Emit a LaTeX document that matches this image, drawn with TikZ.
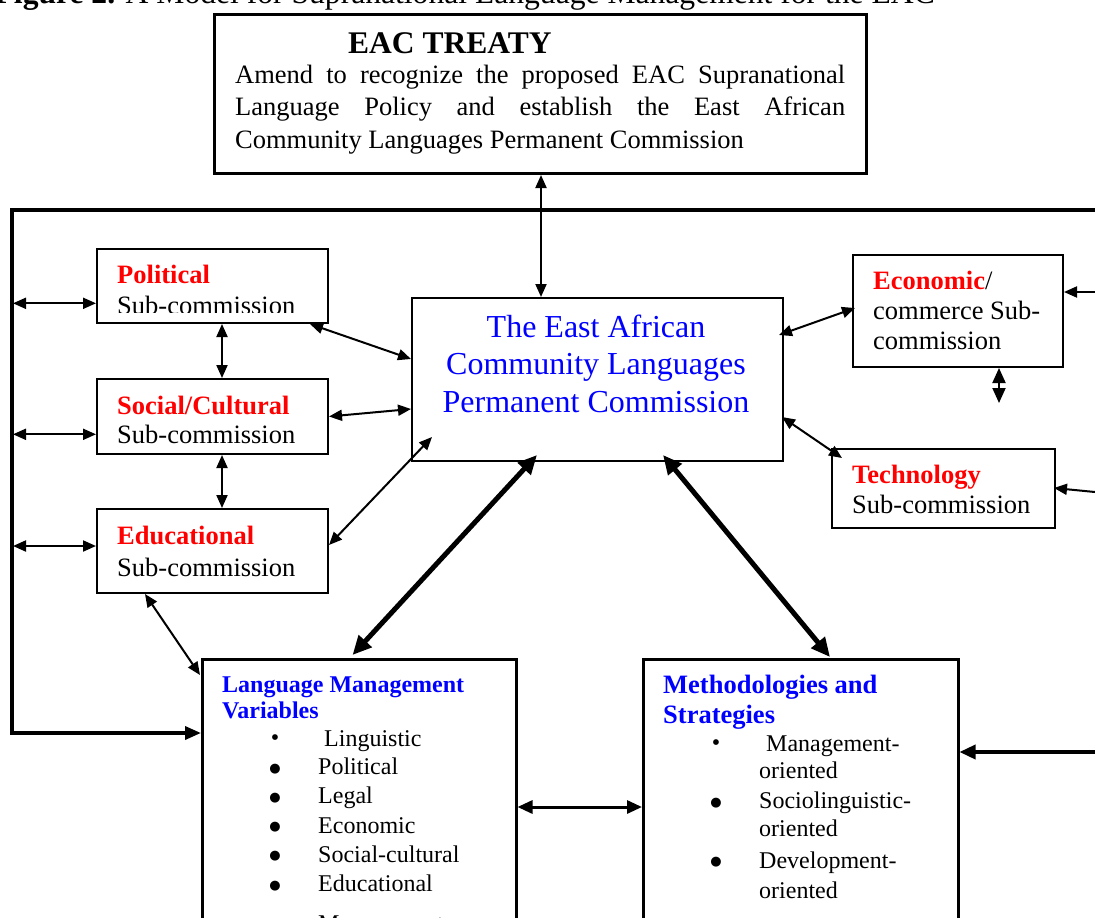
\documentclass[tikz,border=0pt]{standalone}
\usepackage{fontspec}
\setmainfont{Liberation Serif}
\newfontfamily\dejavu{DejaVu Sans}
\usetikzlibrary{arrows.meta,calc}
\definecolor{rd}{RGB}{255,0,0}
\definecolor{bl}{RGB}{0,0,255}
\begin{document}
\begin{tikzpicture}[x=1pt,y=-1pt,
  box/.style={draw, line width=2pt, fill=white, inner sep=0pt, anchor=north west},
  lbl/.style={anchor=base west, inner sep=0pt, font=\fontsize{26.5}{31}\selectfont},
  sml/.style={anchor=base west, inner sep=0pt, font=\fontsize{24}{28}\selectfont},
  bul/.style={anchor=base, inner sep=0pt, font=\dejavu\fontsize{13}{15}\selectfont},
  bulsm/.style={anchor=base, inner sep=0pt, font=\fontsize{24}{28}\selectfont},
  ctr/.style={anchor=base, inner sep=0pt, text=bl, font=\fontsize{32}{37}\selectfont},
  TT/.tip={Triangle[length=13pt,width=11pt]},
  TB/.tip={Triangle[length=19pt,width=17pt]},
  TM/.tip={Triangle[length=15pt,width=13pt]},
  thinarr/.style={line width=2pt, TT-TT},
  thickarr/.style={line width=5pt, TB-TB},
  rtarr/.style={line width=2pt, -TT}]
\useasboundingbox (0,0) rectangle (1095,918);

% caption (cut by the top edge)
\node[anchor=base east, inner sep=0pt, font=\fontsize{31.6}{36}\selectfont] (cap) at (935,4)
  {\textbf{Figure 2.} A Model for Supranational Language Management for the EAC};

% boxes
\node[box, line width=3pt, minimum width=652pt, minimum height=159pt] (treaty) at (213,13) {};
\node[box, minimum width=231pt, minimum height=74pt] (pol) at (96,248) {};
\node[box, minimum width=231pt, minimum height=75pt] (soc) at (96,378) {};
\node[box, minimum width=231pt, minimum height=84pt] (edu) at (96,508) {};
\node[box, minimum width=371pt, minimum height=163pt] (central) at (411,297) {};
\node[box, minimum width=210pt, minimum height=112pt] (econ) at (852,254) {};
\node[box, minimum width=223pt, minimum height=79pt] (tech) at (831,448) {};
\node[box, line width=2.5pt, minimum width=314pt, minimum height=290pt] (lmv) at (201,658) {};
\node[box, line width=2.5pt, minimum width=315pt, minimum height=290pt] (meth) at (642,658) {};

% treaty text
\node[anchor=base west, inner sep=0pt, font=\bfseries\fontsize{31.5}{35}\selectfont] (eac) at (348,53) {EAC TREATY};
\node[lbl] (tr1) at (235,83) {\makebox[610pt][s]{Amend to recognize the proposed EAC Supranational}};
\node[lbl] (tr2) at (235,115) {\makebox[610pt][s]{Language Policy and establish the East African}};
\node[lbl] (tr3) at (235,148) {Community Languages Permanent Commission};

% sub-commission texts
\node[lbl, text=rd, font=\bfseries\fontsize{26.5}{31}\selectfont] (polt) at (117,283) {Political};
\begin{scope}
  \clip (96,248) rectangle (327,312);
  \node[lbl] (pols) at (117,314.5) {Sub-commission};
\end{scope}
\node[lbl, text=rd, font=\bfseries\fontsize{26.5}{31}\selectfont] (soct) at (117,414) {Social/Cultural};
\node[lbl] (socs) at (117,443) {Sub-commission};
\node[lbl, text=rd, font=\bfseries\fontsize{26.5}{31}\selectfont] (edut) at (117,544) {Educational};
\node[lbl] (edus) at (117,576) {Sub-commission};
\node[lbl] (econt) at (873,289) {\textbf{\textcolor{rd}{Economic}}/};
\node[lbl] (econs1) at (873,319) {commerce Sub-};
\node[lbl] (econs2) at (873,349) {commission};
\node[lbl, text=rd, font=\bfseries\fontsize{26.5}{31}\selectfont] (techt) at (852,483) {Technology};
\node[lbl] (techs) at (852,513) {Sub-commission};

% central text
\node[ctr] (c1) at (596,337) {The East African};
\node[ctr] (c2) at (596,374) {Community Languages};
\node[ctr] (c3) at (596,412) {Permanent Commission};

% language management variables
\node[anchor=base west, inner sep=0pt, text=bl, font=\bfseries\fontsize{24}{28}\selectfont] (lmt1) at (222,692) {Language Management};
\node[anchor=base west, inner sep=0pt, text=bl, font=\bfseries\fontsize{24}{28}\selectfont] (lmt2) at (222,718) {Variables};
\node[bulsm] (b1) at (275,745) {•};
\node[sml] (v1) at (324,746) {Linguistic};
\node[bul] (b2) at (275,772) {●};
\node[sml] (v2) at (318,774) {Political};
\node[bul] (b3) at (275,801) {●};
\node[sml] (v3) at (318,803) {Legal};
\node[bul] (b4) at (275,830.5) {●};
\node[sml] (v4) at (318,833) {Economic};
\node[bul] (b5) at (275,859.5) {●};
\node[sml] (v5) at (318,862) {Social-cultural};
\node[bul] (b6) at (275,889) {●};
\node[sml] (v6) at (318,891) {Educational};
\node[sml] (v7) at (318,931) {Management};

% methodologies and strategies
\node[anchor=base west, inner sep=0pt, text=bl, font=\bfseries\fontsize{26.5}{31}\selectfont] (mt1) at (663,693) {Methodologies and};
\node[anchor=base west, inner sep=0pt, text=bl, font=\bfseries\fontsize{26.5}{31}\selectfont] (mt2) at (663,723) {Strategies};
\node[bulsm] (mb1) at (716,750) {•};
\node[sml] (m1) at (766,751) {Management-};
\node[sml] (m1b) at (759,778) {oriented};
\node[bul] (mb2) at (716,806) {●};
\node[sml] (m2) at (759,808) {Sociolinguistic-};
\node[sml] (m2b) at (759,836) {oriented};
\node[bul] (mb3) at (716,865.5) {●};
\node[sml] (m3) at (759,868) {Development-};
\node[sml] (m3b) at (759,898) {oriented};

% free ends
\coordinate (loopR) at (1100,210);
\coordinate (L3) at (12,733);
\coordinate (Lp) at (13,303.3);
\coordinate (Ls) at (13,434.3);
\coordinate (Le) at (13,546);
\coordinate (vx) at (222,0);
\coordinate (tx) at (541,0);
\coordinate (es) at (999,403);
\coordinate (Re) at (1100,292);
\coordinate (Rt) at (1100,492.5);
\coordinate (Rm) at (1100,752);

% big loop
\draw[line width=3.5pt, line join=miter, -{Triangle[length=16pt,width=13pt]}] (loopR) -| (L3) -- (L3 -| lmv.west);

% left arrows
\draw[thinarr] (Lp) -- (Lp -| pol.west);
\draw[thinarr] (Ls) -- (Ls -| soc.west);
\draw[thinarr] (Le) -- (Le -| edu.west);

% vertical arrows between sub-commissions
\draw[thinarr] (pol.south -| vx) -- (soc.north -| vx);
\draw[thinarr] (soc.south -| vx) -- (edu.north -| vx);

% treaty <-> central
\draw[thinarr] (treaty.south -| tx) -- (central.north -| tx);

% sub-commissions <-> central
\draw[thinarr] ($(pol.south east)+(-19,0)$) -- ($(central.north west)+(0,62)$);
\draw[thinarr] (soc.east) -- ($(central.west)+(0,29.5)$);
\draw[thinarr] ($(edu.east)+(0,-6)$) -- ($(central.south west)+(21,-25)$);
\draw[thinarr] ($(edu.south west)+(49,0)$) -- ($(lmv.north west)+(-1,17)$);
\draw[thinarr] ($(central.north east)+(-5,38)$) -- ($(econ.north west)+(3,54)$);
\draw[thinarr] ($(central.north east)+(-2,120)$) -- ($(tech.north west)+(11,10)$);

% central <-> bottom boxes
\draw[thickarr] ($(central.south west)+(126,-7)$) -- ($(lmv.north east)+(-165,-3)$);
\draw[thickarr] ($(central.south west)+(252,-7)$) -- ($(meth.north west)+(188,-1)$);

% economic small double arrow
\draw[line width=2pt, TM-TM] (econ.south -| es) -- (es);

% right side inputs
\draw[rtarr] (Re) -- (Re -| econ.east);
\draw[rtarr] (Rt) -- ($(tech.north east)+(-2,40)$);
\draw[line width=3.5pt, -{Triangle[length=16pt,width=14pt]}] (Rm) -- (Rm -| meth.east);

% lmv <-> meth
\draw[line width=3pt, TM-TM] ($(lmv.north east)+(0,149)$) -- ($(meth.north west)+(0,149)$);
\end{tikzpicture}
\end{document}
